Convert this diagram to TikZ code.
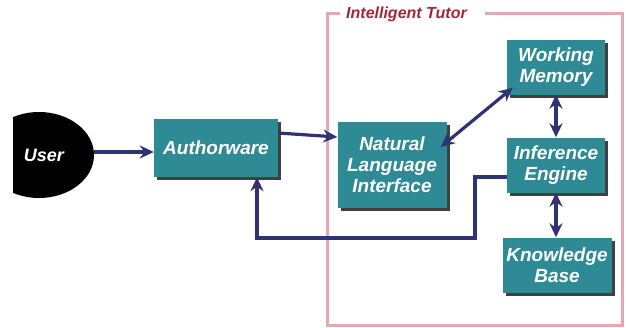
\documentclass[tikz,border=0pt]{standalone}
\usepackage{fontspec}
\setsansfont{Liberation Sans}
\usetikzlibrary{arrows.meta,shadows,shapes.geometric}
\definecolor{boxteal}{HTML}{2E8A95}
\definecolor{arrownavy}{HTML}{2F3273}
\definecolor{framepink}{HTML}{E2AAB0}
\definecolor{tutorred}{HTML}{A3263A}
\tikzset{
  box/.style={fill=boxteal, text=white, align=center, inner sep=0pt,
    font=\sffamily\bfseries\itshape\fontsize{19}{21}\selectfont,
    drop shadow={shadow xshift=3pt, shadow yshift=-3pt, fill=black!75, opacity=1}},
  link/.style={draw=arrownavy, line width=3.2pt, -{Stealth[length=14pt,width=13pt]}},
  both/.style={link, {Stealth[length=14pt,width=13pt]}-{Stealth[length=14pt,width=13pt]}}
}
\begin{document}
\begin{tikzpicture}[x=1pt,y=-1pt]
\useasboundingbox (0,0) rectangle (626,327);
\begin{scope}
\clip (13,0) rectangle (626,327);
\node[ellipse, fill=black, minimum width=110pt, minimum height=86pt, text=white,
  font=\sffamily\bfseries\itshape\fontsize{18}{20}\selectfont] (user) at (39,155) {\hspace*{10pt}User};
\end{scope}
% tutor frame, open where the label sits
\draw[framepink, line width=3pt] (340,13) -- (327,13) -- (327,325) -- (622,325) -- (622,13) -- (485,13);
\node[anchor=west, inner sep=0pt, text=tutorred,
  font=\sffamily\bfseries\itshape\fontsize{16}{18}\selectfont] (tutor) at (346,14) {Intelligent Tutor};
\node[box, minimum width=124pt, minimum height=58pt] (aw) at (216,148) {Authorware};
\node[box, minimum width=109pt, minimum height=86pt] (nli) at (392,165) {Natural\\Language\\Interface};
\node[box, minimum width=98pt, minimum height=55pt] (wm) at (556,67) {Working\\Memory};
\node[box, minimum width=98pt, minimum height=55pt] (ie) at (556,165) {Inference\\Engine};
\node[box, minimum width=109pt, minimum height=55pt] (kb) at (557,265) {Knowledge\\Base};
\coordinate (loop) at (475,238);
\draw[link] ([yshift=3pt]user.east) -- ([yshift=3pt]user.east -| aw.west);
\draw[link] ([yshift=15pt]aw.east) -- ([yshift=28pt]nli.west);
\draw[both] ([shift={(-6,-18)}]nli.east) -- ([shift={(6,-7)}]wm.south west);
\draw[both] (wm.south) -- (ie.north);
\draw[both] (ie.south) -- (ie.south |- kb.north);
\draw[link] ([yshift=-12pt]ie.west) -| (loop) -| ([xshift=41pt]aw.south);
\end{tikzpicture}
\end{document}
